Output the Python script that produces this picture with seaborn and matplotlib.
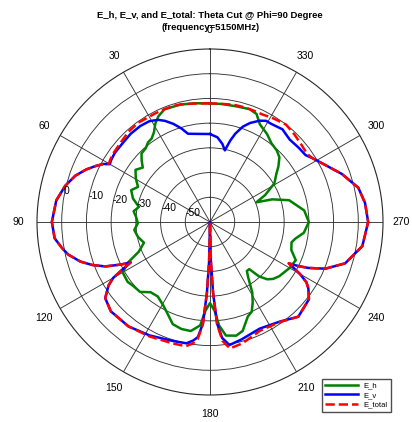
import numpy as np
import pandas as pd
import seaborn as sns
import matplotlib.pyplot as plt

plt.rcParams["font.family"] = ["Liberation Sans", "DejaVu Sans"]

# E_h (green) - angle in degrees, gain in dB
theta_h = [0, 7, 14, 22, 26, 29, 32, 35, 38, 41,
           45, 48, 51, 55, 59.6, 64, 68, 73, 78, 82,
           86, 91, 96, 101.6, 107.4, 112.6, 116.3, 120, 126, 130,
           135, 139.8, 145, 151, 155, 160, 165, 170, 174.6, 177,
           180, 183, 185, 188, 193, 196.7, 201.8, 205, 208, 211,
           214.6, 217, 219.8, 222, 225, 228, 232, 240, 246, 251,
           256, 259, 263.4, 270, 277, 285.4, 290, 293, 296, 301,
           306, 309, 313, 317, 322, 327, 333, 336.7, 340.7, 347,
           354, 360]
e_h = [-12.0, -11.6, -11.0, -10.8, -12.4, -14.4, -17.2, -18.8, -19.2, -20.4,
       -20.8, -22.8, -25.0, -23.2, -25.2, -27.6, -25.6, -27.4, -30.6, -28.8,
       -30.0, -30.8, -29.2, -30.2, -32.0, -28.8, -23.0, -19.2, -18.8, -19.6,
       -20.0, -22.8, -23.2, -21.2, -19.2, -16.0, -15.2, -15.2, -18.0, -24.0,
       -27.2, -24.0, -18.0, -13.6, -12.8, -14.0, -18.8, -20.0, -23.2, -26.8,
       -32.8, -35.2, -35.2, -30.4, -27.2, -25.6, -24.4, -22.8, -22.0, -25.2,
       -26.0, -24.8, -21.8, -20.0, -21.6, -26.8, -33.2, -39.6, -35.2, -29.6,
       -26.8, -24.4, -21.6, -20.4, -19.6, -17.6, -15.6, -12.4, -11.6, -12.0,
       -12.0, -12.0]

# E_v (blue) and E_total (red) share the same angles
theta_v = [0, 8, 14, 17, 20.5, 24, 27, 31, 36, 42,
           48, 54, 58, 60, 61.5, 64, 67, 71, 76, 82,
           90, 96, 100, 103, 107, 110, 113, 115.5, 117, 118.5,
           120, 122, 126, 132, 142, 152, 163, 169, 172, 174,
           176, 177.5, 178.7, 180, 181.3, 182.5, 184, 186, 189, 195,
           205, 215, 223, 232, 236, 238, 240, 242.3, 243.5, 245,
           248, 253, 261, 270, 277, 283, 290, 297, 302, 305,
           310, 316, 322, 328, 331, 334, 338, 341, 344, 346,
           348.3, 351, 355, 360]
e_v = [-24.4, -24.0, -23.2, -20.4, -17.6, -15.2, -13.6, -12.4, -12.0, -12.0,
       -12.4, -12.4, -12.8, -13.2, -10.8, -8.4, -5.6, -2.4, 0.4, 2.8,
       4.0, 3.2, 0.8, -1.2, -5.2, -9.2, -14.0, -20.0, -24.0, -19.6,
       -14.8, -11.6, -7.6, -6.0, -6.4, -8.0, -9.6, -10.0, -11.6, -13.2,
       -18.8, -31.2, -44.0, -60.0, -44.0, -31.2, -18.8, -12.8, -9.6, -10.8,
       -12.4, -10.8, -7.6, -9.2, -12.0, -14.0, -18.0, -24.0, -20.0, -16.0,
       -9.6, -2.8, 2.4, 4.0, 3.2, 1.6, -3.2, -8.4, -11.2, -12.8,
       -13.2, -13.6, -12.4, -13.2, -13.2, -14.4, -16.8, -19.2, -22.8, -26.0,
       -30.4, -28.0, -25.6, -24.4]
e_total = [-12.0, -11.6, -11.0, -10.8, -10.8, -10.8, -10.8, -10.8, -10.4, -10.8,
           -11.6, -12.0, -12.4, -12.8, -10.8, -8.4, -5.6, -2.4, 0.4, 2.8,
           4.0, 3.2, 0.8, -1.2, -5.2, -9.2, -14.0, -20.0, -24.0, -19.6,
           -14.8, -11.6, -7.6, -6.0, -6.4, -7.6, -8.6, -8.8, -10.4, -12.4,
           -18.4, -31.2, -44.0, -60.0, -44.0, -31.2, -18.4, -11.6, -8.2, -9.2,
           -11.6, -10.6, -7.6, -9.2, -12.0, -14.0, -18.0, -24.0, -20.0, -16.0,
           -9.6, -2.8, 2.4, 4.0, 3.2, 1.6, -3.2, -8.4, -11.2, -12.0,
           -11.6, -10.8, -10.0, -10.8, -11.2, -11.6, -11.6, -11.6, -11.6, -11.6,
           -11.6, -11.8, -12.0, -12.0]

angle_ticks = [0, 30, 60, 90, 120, 150, 180, 210, 240, 270, 300, 330]
ring_ticks = [-50, -40, -30, -20, -10, 0]

df_h = pd.DataFrame({"theta": np.deg2rad(theta_h), "dB": e_h})
df_v = pd.DataFrame({"theta": np.deg2rad(theta_v), "dB": e_v})
df_t = pd.DataFrame({"theta": np.deg2rad(theta_v), "dB": e_total})

fig = plt.figure(figsize=(4.12, 4.22), dpi=100)
ax = fig.add_axes([37 / 412, 27 / 422, 346 / 412, 346 / 422], projection="polar")
ax.set_theta_zero_location("N")
ax.set_theta_direction(1)

sns.lineplot(data=df_h, x="theta", y="dB", color="#008000", lw=1.8,
             label="E_h", sort=False, estimator=None, ax=ax)
sns.lineplot(data=df_v, x="theta", y="dB", color="#0000ff", lw=1.8,
             label="E_v", sort=False, estimator=None, ax=ax)
sns.lineplot(data=df_t, x="theta", y="dB", color="#ff0000", lw=1.8,
             linestyle="--", label="E_total", sort=False, estimator=None, ax=ax)

ax.set_rlim(-60, 10)
ax.set_xticks(np.deg2rad(angle_ticks))
ax.set_xticklabels([])
ax.set_yticks(ring_ticks)
ax.set_yticklabels([])
ax.set_xlabel("")
ax.set_ylabel("")
ax.grid(True, color="0.2", lw=0.65)
ax.spines["polar"].set_color("0.15")
ax.spines["polar"].set_linewidth(0.8)

# angle labels outside the circle
for a in angle_ticks:
    ax.text(np.deg2rad(a), 17.5, str(a), ha="center", va="center",
            fontsize=7.5, clip_on=False)

# ring labels along the 80 degree spoke
for v in ring_ticks:
    ax.text(np.deg2rad(80), v, str(v), ha="left", va="bottom", fontsize=7.5)

fig.text(0.51, 1 - 15 / 422, "E_h, E_v, and E_total: Theta Cut @ Phi=90 Degree",
         ha="center", va="center", fontsize=6.8, fontweight="bold")
fig.text(0.51, 1 - 28 / 422, "(frequency=5150MHz)",
         ha="center", va="center", fontsize=6.8, fontweight="bold")

ax.legend(loc="upper left", bbox_to_anchor=(318 / 412, 1 - 375 / 422),
          bbox_transform=fig.transFigure, fontsize=5.5, frameon=True,
          fancybox=False, edgecolor="0.3", framealpha=1, handlelength=4.3,
          borderpad=0.4, labelspacing=0.3)

plt.savefig("out.png", dpi=100)
